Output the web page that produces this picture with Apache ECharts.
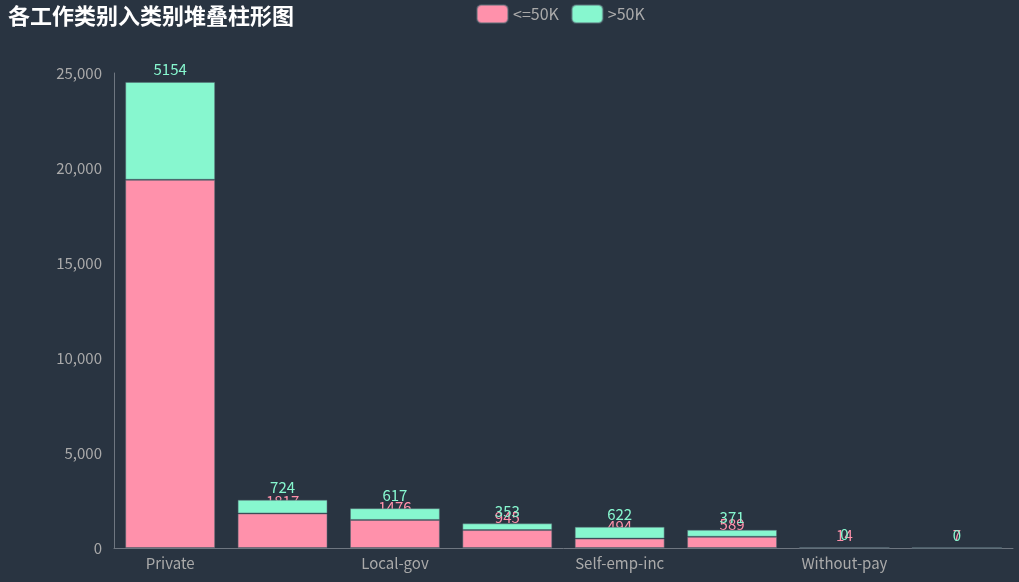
<!DOCTYPE html>
<html>
<head>
<meta charset="utf-8">
<script src="https://cdn.jsdelivr.net/npm/echarts@6/dist/echarts.min.js"></script>
<style>
	html, body { margin: 0; padding: 0; background: #293441; }
	#main { width: 1019px; height: 582px; }
</style>
</head>
<body>
<div id="main"></div>
<script>
// 工作类别
var categories = ['Private', 'Self-emp-not-inc', 'Local-gov', 'State-gov', 'Self-emp-inc', 'Federal-gov', 'Without-pay', 'Never-worked'];
// 收入 <=50K
var lowIncome = [19378, 1817, 1476, 945, 494, 589, 14, 7];
// 收入 >50K
var highIncome = [5154, 724, 617, 353, 622, 371, 0, 0];

(function() {
	// 1.实例化对象
	var myChart = echarts.init(document.getElementById('main'));
	// 2.指定配置项和数据
	var option = {
		backgroundColor: '#293441',
		color: ['#ff91ab', '#87f7cf'],
		textStyle: {
			fontFamily: 'Noto Sans CJK SC'
		},
		title: {
			text: '各工作类别入类别堆叠柱形图',
			left: 3,
			top: 0,
			textStyle: {
				color: '#ffffff',
				fontSize: 22,
				fontWeight: 'bold',
				fontFamily: 'Noto Sans CJK SC'
			}
		},
		legend: {
			left: 471,
			top: -1,
			itemWidth: 31,
			itemHeight: 18,
			itemGap: 12,
			textStyle: {
				color: '#aaaaaa',
				fontSize: 16
			},
			data: ['<=50K', '>50K']
		},
		// 修改图表的大小
		grid: {
			left: 114,
			right: 6,
			top: 73,
			bottom: 34
		},
		xAxis: {
			type: 'category',
			data: categories,
			axisTick: { show: false },
			axisLine: {
				lineStyle: { color: '#6e7680' }
			},
			axisLabel: {
				color: '#aaaaaa',
				fontSize: 15,
				margin: 8
			}
		},
		yAxis: {
			type: 'value',
			min: 0,
			max: 25000,
			interval: 5000,
			axisTick: { show: false },
			axisLine: {
				show: true,
				lineStyle: { color: '#6e7680' }
			},
			axisLabel: {
				color: '#aaaaaa',
				fontSize: 15,
				margin: 12
			},
			splitLine: { show: false }
		},
		series: [{
			name: '<=50K',
			type: 'bar',
			stack: 'total',
			z: 1,
			barCategoryGap: '20%',
			itemStyle: {
				borderColor: 'rgba(90,110,120,0.5)',
				borderWidth: 1
			},
			label: {
				show: true,
				position: 'top',
				color: '#ff91ab',
				fontSize: 15
			},
			data: lowIncome
		}, {
			name: '>50K',
			type: 'bar',
			stack: 'total',
			z: 2,
			itemStyle: {
				borderColor: 'rgba(90,110,120,0.5)',
				borderWidth: 1
			},
			label: {
				show: true,
				position: 'top',
				color: '#87f7cf',
				fontSize: 15
			},
			data: highIncome
		}]
	};
	// 3.把配置项给实例对象
	myChart.setOption(option);
	window.addEventListener('resize', function() {
		myChart.resize();
	});
})();
</script>
</body>
</html>
